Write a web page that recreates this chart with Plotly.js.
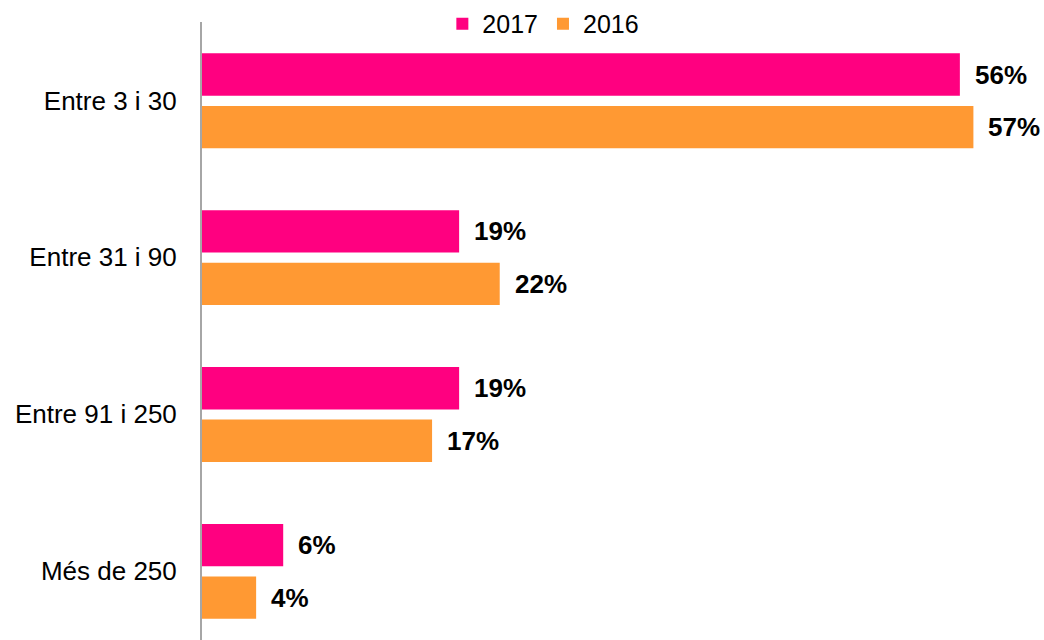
<!DOCTYPE html>
<html>
<head>
<meta charset="utf-8">
<script src="https://cdn.plot.ly/plotly-3.0.1.min.js"></script>
<style>html,body{margin:0;padding:0;background:#fff;}#chart{width:1044px;height:640px;}</style>
</head>
<body>
<div id="chart"></div>
<script>
const categories = ["Entre 3 i 30", "Entre 31 i 90", "Entre 91 i 250", "Més de 250"];
const values2017 = [56, 19, 19, 6];
const values2016 = [57, 22, 17, 4];
const seriesNames = ["2017", "2016"];
const valueLabels2017 = ["56%", "19%", "19%", "6%"];
const valueLabels2016 = ["57%", "22%", "17%", "4%"];

const barW = 0.27;
const off2017 = -0.30;
const off2016 = 0.035;

const traces = [
  {type: "bar", orientation: "h", name: seriesNames[0], y: categories, x: values2017,
   width: barW, offset: off2017, marker: {color: "#FF0080"}, hoverinfo: "none"},
  {type: "bar", orientation: "h", name: seriesNames[1], y: categories, x: values2016,
   width: barW, offset: off2016, marker: {color: "#FF9933"}, hoverinfo: "none"}
];

const annotations = [];
function addLabels(vals, labels, off) {
  vals.forEach((v, i) => {
    annotations.push({x: v, y: i + off + barW / 2, xref: "x", yref: "y", text: "<b>" + labels[i] + "</b>",
      showarrow: false, xanchor: "left", yanchor: "middle", xshift: 13,
      font: {family: "Liberation Sans, Arial, sans-serif", size: 26, color: "#000"}});
  });
}
addLabels(values2017, valueLabels2017, off2017);
addLabels(values2016, valueLabels2016, off2016);

const layout = {
  width: 1044, height: 640,
  margin: {l: 202, r: 30, t: 22, b: 0, autoexpand: false},
  paper_bgcolor: "#fff", plot_bgcolor: "#fff",
  barmode: "group",
  showlegend: true,
  legend: {orientation: "h", x: 0.296, xanchor: "left", y: 0.9968, yanchor: "middle",
           font: {family: "Liberation Sans, Arial, sans-serif", size: 25, color: "#000"},
           traceorder: "normal", itemwidth: 30, bgcolor: "rgba(0,0,0,0)"},
  xaxis: {range: [0, 60], visible: false, showgrid: false, zeroline: false, fixedrange: true},
  yaxis: {type: "category", range: [3.44, -0.5], showline: true, linecolor: "#A6A6A6", linewidth: 2,
          ticks: "", showgrid: false, zeroline: false, ticklabelstandoff: 18,
          tickfont: {family: "Liberation Sans, Arial, sans-serif", size: 26, color: "#000"}},
  annotations: annotations
};

Plotly.newPlot("chart", traces, layout, {displayModeBar: false, staticPlot: true});
</script>
</body>
</html>
